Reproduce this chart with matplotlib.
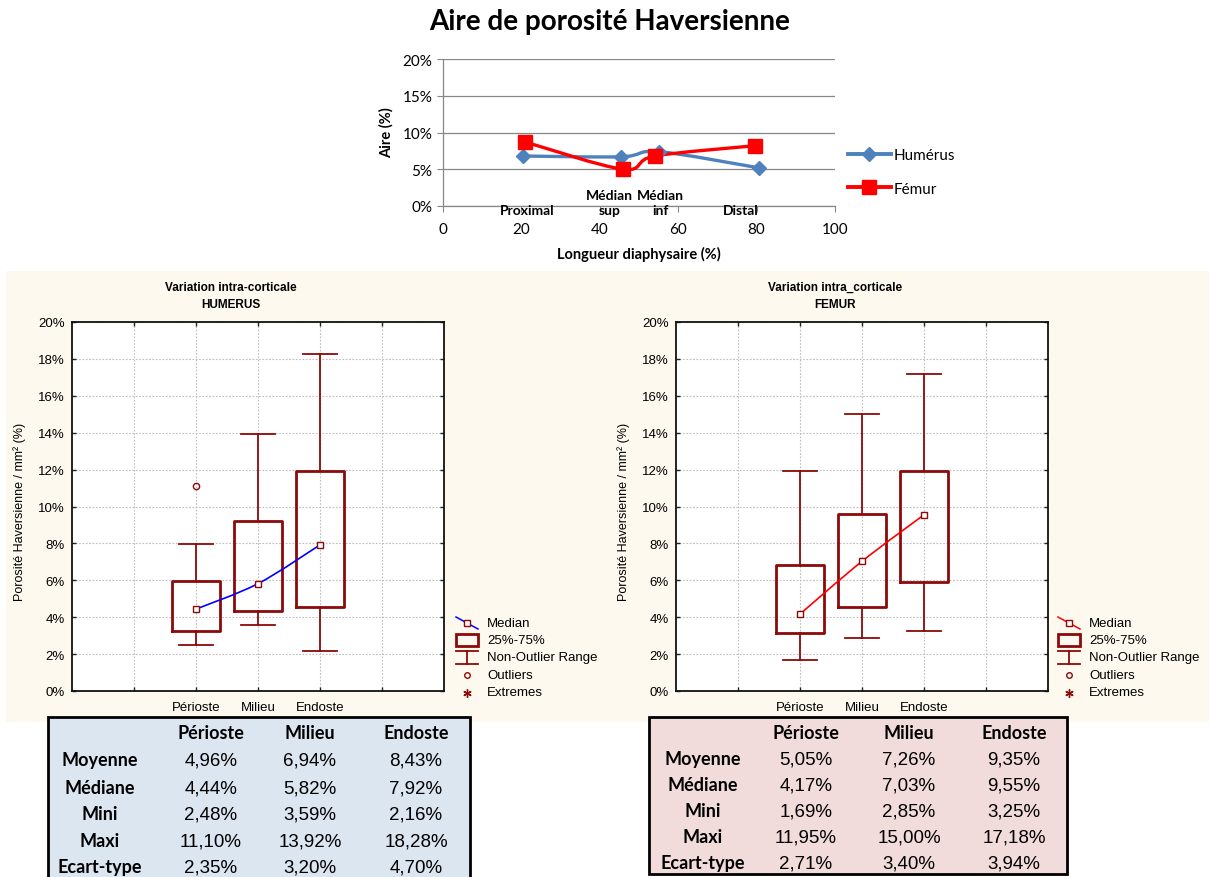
import numpy as np
import matplotlib
matplotlib.use('Agg')
import matplotlib.pyplot as plt
from matplotlib.path import Path
from matplotlib.patches import PathPatch, Rectangle
from matplotlib.lines import Line2D

# ---------------- data ----------------
# Top chart: porosity area along the diaphysis
hum_x = [20.5, 45.5, 55.0, 80.5]
hum_y = [6.8, 6.7, 7.4, 5.2]
fem_x = [21.0, 46.0, 54.0, 79.5]
fem_y = [8.7, 5.0, 6.8, 8.2]
section_labels = ['Proximal', 'Médian\nsup', 'Médian\ninf', 'Distal']
series_names = ['Humérus', 'Fémur']

# Box plots
box_categories = ['Périoste', 'Milieu', 'Endoste']
hum_q1 = [3.23, 4.32, 4.57]
hum_q3 = [5.95, 9.19, 11.93]
hum_whislo = [2.48, 3.59, 2.16]
hum_whishi = [7.97, 13.92, 18.28]
hum_outliers = [[11.10], [], []]
fem_q1 = [3.13, 4.53, 5.91]
fem_q3 = [6.82, 9.58, 11.92]
fem_whislo = [1.69, 2.85, 3.25]
fem_whishi = [11.95, 15.00, 17.18]
fem_outliers = [[], [], []]

# Summary tables
table_rows = ['Moyenne', 'Médiane', 'Mini', 'Maxi', 'Ecart-type']
hum_mean = [4.96, 6.94, 8.43]
hum_median = [4.44, 5.82, 7.92]
hum_min = [2.48, 3.59, 2.16]
hum_max = [11.10, 13.92, 18.28]
hum_std = [2.35, 3.20, 4.70]
fem_mean = [5.05, 7.26, 9.35]
fem_median = [4.17, 7.03, 9.55]
fem_min = [1.69, 2.85, 3.25]
fem_max = [11.95, 15.00, 17.18]
fem_std = [2.71, 3.40, 3.94]

legend_items = ['Median', '25%-75%', 'Non-Outlier Range', 'Outliers', 'Extremes']

# ---------------- helpers ----------------
W, H = 1209, 878
fig = plt.figure(figsize=(W / 100, H / 100), dpi=100)
fig.patch.set_facecolor('white')

def fx(x):
    return x / W

def fy(y):
    return 1 - y / H

def smooth_path(xs, ys):
    pts = np.column_stack([xs, ys]).astype(float)
    n = len(pts)
    verts = [pts[0]]
    codes = [Path.MOVETO]
    for i in range(n - 1):
        p0 = pts[i - 1] if i > 0 else pts[i]
        p1 = pts[i]
        p2 = pts[i + 1]
        p3 = pts[i + 2] if i + 2 < n else pts[i + 1]
        verts += [p1 + (p2 - p0) / 6, p2 - (p3 - p1) / 6, p2]
        codes += [Path.CURVE4] * 3
    return Path(verts, codes)

def fmt(v):
    return f"{v:.2f}".replace('.', ',') + '%'

TITLE_FONT = 'Lato'
STAT_FONT = 'Liberation Sans'
DARK = '#8B0A0A'

# background overlay axes in pixel coordinates
bg = fig.add_axes([0, 0, 1, 1], zorder=-1)
bg.set_xlim(0, W)
bg.set_ylim(H, 0)
bg.axis('off')
bg.add_patch(Rectangle((6, 272), 1203, 451, fc='#FDF9EE', ec='none'))

# ---------------- top chart ----------------
fig.text(fx(610), fy(22), 'Aire de porosité Haversienne', ha='center', va='center',
         fontsize=20, fontweight='bold', family=TITLE_FONT)

ax = fig.add_axes([fx(443), fy(207), (835 - 443) / W, (207 - 60) / H])
ax.set_xlim(0, 100)
ax.set_ylim(0, 20)
ax.set_facecolor('none')
for s in ['top', 'right']:
    ax.spines[s].set_visible(False)
for s in ['left', 'bottom']:
    ax.spines[s].set_color('#878787')
    ax.spines[s].set_linewidth(0.9)
ax.set_xticks([0, 20, 40, 60, 80, 100])
ax.set_yticks([0, 5, 10, 15, 20])
ax.set_yticklabels([f'{v}%' for v in [0, 5, 10, 15, 20]])
ax.tick_params(axis='both', direction='out', length=4, color='#878787', labelsize=11)
ax.tick_params(axis='x', pad=7.5)
for lab in ax.get_xticklabels() + ax.get_yticklabels():
    lab.set_family(TITLE_FONT)
ax.yaxis.grid(True, color='#878787', lw=0.9)
ax.set_axisbelow(True)

blue = '#4F81BD'
red = '#FF0000'
ax.add_patch(PathPatch(smooth_path(hum_x, hum_y), fill=False, ec=blue, lw=2.4, zorder=3))
ax.add_patch(PathPatch(smooth_path(fem_x, fem_y), fill=False, ec=red, lw=2.4, zorder=3))
ax.plot(hum_x, hum_y, ls='none', marker='D', ms=7.5, color=blue, zorder=4)
ax.plot(fem_x, fem_y, ls='none', marker='s', ms=10, color=red, zorder=5)

label_dx = [4, -12, 2, -18]
for i, lab in enumerate(section_labels):
    ax.annotate(lab, xy=(hum_x[i], 0), xytext=(label_dx[i], -10), textcoords='offset pixels',
                ha='center', va='bottom', fontsize=10, fontweight='bold', family=TITLE_FONT,
                linespacing=1.35, annotation_clip=False)

fig.text(fx(386), fy(133), 'Aire (%)', rotation=90, ha='center', va='center',
         fontsize=10.5, fontweight='bold', family=TITLE_FONT)
fig.text(fx(639), fy(254), 'Longueur diaphysaire (%)', ha='center', va='center',
         fontsize=10.5, fontweight='bold', family=TITLE_FONT)

handles = [Line2D([], [], color=blue, lw=2.8, marker='D', ms=7.5),
           Line2D([], [], color=red, lw=2.8, marker='s', ms=10)]
fig.legend(handles, series_names, loc='center left', bbox_to_anchor=(fx(848), fy(173)),
           bbox_transform=fig.transFigure, frameon=False, handlelength=2.8, numpoints=1,
           handletextpad=0.2, labelspacing=1.25, borderpad=0, borderaxespad=0,
           prop={'family': TITLE_FONT, 'size': 11})

# ---------------- box plots ----------------
def box_panel(left_px, q1, med, q3, lo, hi, outl, line_color, title1, title2):
    a = fig.add_axes([fx(left_px), fy(692), 372 / W, (692 - 323) / H])
    a.set_facecolor('white')
    stats = [dict(med=med[i], q1=q1[i], q3=q3[i], whislo=lo[i], whishi=hi[i],
                  fliers=outl[i], label=box_categories[i]) for i in range(3)]
    a.bxp(stats, positions=[2, 3, 4], widths=0.78, capwidths=0.54, showfliers=True,
          boxprops=dict(color=DARK, lw=2.0),
          whiskerprops=dict(color=DARK, lw=1.3),
          capprops=dict(color=DARK, lw=1.3),
          medianprops=dict(linestyle='none'),
          flierprops=dict(marker='o', mfc='none', mec=DARK, ms=4.5, mew=1.0))
    a.add_patch(PathPatch(smooth_path([2, 3, 4], med), fill=False, ec=line_color, lw=1.2, zorder=4))
    a.plot([2, 3, 4], med, ls='none', marker='s', ms=5, mfc='white', mec=DARK, mew=1.0, zorder=5)
    a.set_xlim(0, 6)
    a.set_ylim(0, 20)
    a.set_xticks([1, 2, 3, 4, 5])
    a.set_xticklabels(['', 'Périoste', 'Milieu', 'Endoste', ''])
    a.set_yticks(range(0, 21, 2))
    a.set_yticklabels([f'{v}%' for v in range(0, 21, 2)])
    a.tick_params(axis='both', direction='in', length=3, width=1, top=True, right=True,
                  labelsize=9.5, color='#222222')
    a.tick_params(axis='x', pad=7)
    a.tick_params(axis='y', pad=5)
    for lab in a.get_xticklabels() + a.get_yticklabels():
        lab.set_family(STAT_FONT)
    a.grid(True, color='#BDBDBD', ls=(0, (1.5, 1.5)), lw=0.8)
    a.set_axisbelow(True)
    for s in a.spines.values():
        s.set_linewidth(1.3)
        s.set_color('#111111')
    cx = left_px + 159
    fig.text(fx(cx), fy(288), title1, ha='center', va='center', fontsize=8.5,
             fontweight='bold', family=STAT_FONT)
    fig.text(fx(cx), fy(305), title2, ha='center', va='center', fontsize=8.5,
             fontweight='bold', family=STAT_FONT)
    fig.text(fx(left_px - 52), fy(512), 'Porosité Haversienne / mm² (%)', rotation=90,
             ha='center', va='center', fontsize=9, family=STAT_FONT)
    return a

box_panel(72, hum_q1, hum_median, hum_q3, hum_whislo, hum_whishi, hum_outliers, '#0000FF',
          'Variation intra-corticale', 'HUMERUS')
box_panel(676, fem_q1, fem_median, fem_q3, fem_whislo, fem_whishi, fem_outliers, '#FF0000',
          'Variation intra_corticale', 'FEMUR')

def box_legend(x0, line_color):
    xc = x0 + 11
    rows = [624, 641, 658, 676, 693]
    bg.add_line(Line2D([x0, x0 + 22], [618, 630], color=line_color, lw=1.1))
    bg.plot([xc], [624], ls='none', marker='s', ms=5, mfc='white', mec=DARK, mew=1.0)
    bg.add_patch(Rectangle((x0, 635), 22, 12, fc='none', ec=DARK, lw=2.0))
    bg.add_line(Line2D([x0, x0 + 22], [652, 652], color=DARK, lw=1.3))
    bg.add_line(Line2D([x0, x0 + 22], [665, 665], color=DARK, lw=1.3))
    bg.add_line(Line2D([xc, xc], [652, 665], color=DARK, lw=1.3))
    bg.plot([xc], [676], ls='none', marker='o', ms=4, mfc='none', mec=DARK, mew=1.0)
    bg.plot([xc], [694], ls='none', marker=(6, 2, 0), ms=6, color=DARK, mew=1.0)
    for y, t in zip(rows, legend_items):
        bg.text(x0 + 31, y, t, ha='left', va='center', fontsize=9.5, family=STAT_FONT)

box_legend(456, '#0000FF')
box_legend(1058, '#FF0000')

# ---------------- tables ----------------
def stat_table(x0, x1, y_bottom, face, label_x, col_x, row_y, values):
    bg.add_patch(Rectangle((x0, 718), x1 - x0, y_bottom - 718, fc=face, ec='black', lw=2.0,
                           clip_on=False))
    for cx, c in zip(col_x, box_categories):
        bg.text(cx, 734, c, ha='center', va='center', fontsize=13, fontweight='bold',
                family=TITLE_FONT)
    for ry, rname, vals in zip(row_y, table_rows, values):
        bg.text(label_x, ry, rname, ha='center', va='center', fontsize=13, fontweight='bold',
                family=TITLE_FONT)
        for cx, v in zip(col_x, vals):
            bg.text(cx, ry, fmt(v), ha='center', va='center', fontsize=13.5, family=STAT_FONT)

stat_table(48, 470, 900, '#DCE6F1', 100, [211, 310, 416], [761, 789, 815, 842, 868],
           [hum_mean, hum_median, hum_min, hum_max, hum_std])
stat_table(649, 1067, 875, '#F2DCDB', 703, [806, 909, 1014], [760, 786, 812, 838, 864],
           [fem_mean, fem_median, fem_min, fem_max, fem_std])

fig.savefig('out.png', dpi=100)
